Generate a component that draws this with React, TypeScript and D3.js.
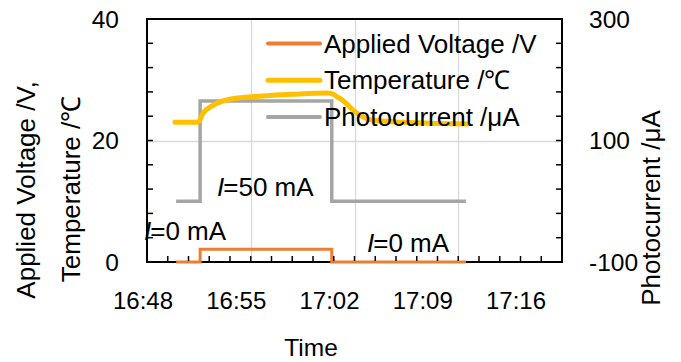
import React, { useRef, useEffect } from "react";
import * as d3 from "d3";

// time stamps (hh:mm:ss) and values
const stepTimes = ["16:49:58", "16:51:35", "17:00:28", "17:09:31"];
const voltage = [0, 2.1, 0, 0];
const photocurrent = [0, 165, 0, 0];

const tempTimes = [
  "16:49:53", "16:51:26", "16:51:47", "16:52:27", "16:53:24", "16:54:29",
  "16:55:37", "16:57:51", "17:00:09", "17:00:33", "17:00:49", "17:01:13",
  "17:01:54", "17:02:30", "17:03:03", "17:05:16", "17:07:34", "17:09:35",
];
const temperature = [
  23.0, 23.0, 24.5, 25.8, 26.7, 27.1, 27.3, 27.6, 27.8, 27.65, 27.2, 26.6,
  25.0, 24.0, 23.4, 23.0, 22.8, 22.7,
];

const xTicks = ["16:48", "16:55", "17:02", "17:09", "17:16"];
const leftTicks = [0, 20, 40];
const rightTicks = [-100, 100, 300];

const seriesNames = ["Applied Voltage /V", "Temperature /℃", "Photocurrent /μA"];
const colors = ["#ED7D31", "#FFC000", "#A5A5A5"];

const FONT = "'Liberation Sans', Arial, sans-serif";

const App = () => {
  const svgRef = useRef(null);

  useEffect(() => {
    const width = 681;
    const height = 362;
    const margin = { top: 19, right: 119, bottom: 100, left: 147 };

    const svg = d3.select(svgRef.current);
    svg.selectAll("*").remove();
    svg.attr("width", width).attr("height", height);

    const parse = d3.timeParse("%H:%M:%S");
    const parseHM = d3.timeParse("%H:%M");

    const x = d3
      .scaleTime()
      .domain([parseHM("16:48"), parseHM("17:16")])
      .range([margin.left, width - margin.right]);
    // Excel drew the tick labels on a slightly compressed spacing
    const xLabel = d3
      .scaleTime()
      .domain([parseHM("16:48"), parseHM("17:16")])
      .range([143, 516]);

    const yL = d3.scaleLinear().domain([0, 40]).range([height - margin.bottom, margin.top]);
    const yR = d3.scaleLinear().domain([-100, 300]).range([height - margin.bottom, margin.top]);

    const x0 = margin.left;
    const x1 = width - margin.right;
    const y0 = height - margin.bottom;
    const y1 = margin.top;

    // gridlines
    const grid = svg.append("g").attr("stroke", "#D9D9D9").attr("stroke-width", 1.3);
    xTicks.slice(1, -1).forEach((t) => {
      const gx = Math.round(x(parseHM(t))) + 0.5;
      grid.append("line").attr("x1", gx).attr("x2", gx).attr("y1", y1).attr("y2", y0);
    });
    leftTicks.slice(1, -1).forEach((v) => {
      const gy = Math.round(yL(v)) + 0.5;
      grid.append("line").attr("x1", x0).attr("x2", x1).attr("y1", gy).attr("y2", gy);
    });

    // frame
    svg
      .append("rect")
      .attr("x", x0)
      .attr("y", y1)
      .attr("width", x1 - x0)
      .attr("height", y0 - y1)
      .attr("fill", "none")
      .attr("stroke", "#000")
      .attr("stroke-width", 2);

    // series
    const stepData = stepTimes.map((t, i) => ({ t: parse(t), v: voltage[i], p: photocurrent[i] }));
    const tempData = tempTimes.map((t, i) => ({ t: parse(t), v: temperature[i] }));

    svg
      .append("path")
      .datum(stepData)
      .attr("fill", "none")
      .attr("stroke", colors[2])
      .attr("stroke-width", 3.5)
      .attr(
        "d",
        d3
          .line()
          .x((d) => x(d.t))
          .y((d) => yR(d.p))
          .curve(d3.curveStepAfter)
      );

    svg
      .append("path")
      .datum(tempData)
      .attr("fill", "none")
      .attr("stroke", colors[1])
      .attr("stroke-width", 5)
      .attr("stroke-linecap", "round")
      .attr(
        "d",
        d3
          .line()
          .x((d) => x(d.t))
          .y((d) => yL(d.v))
          .curve(d3.curveMonotoneX)
      );

    svg
      .append("path")
      .datum(stepData)
      .attr("fill", "none")
      .attr("stroke", colors[0])
      .attr("stroke-width", 3)
      .attr(
        "d",
        d3
          .line()
          .x((d) => x(d.t))
          .y((d) => yL(d.v))
          .curve(d3.curveStepAfter)
      );

    // minor + major ticks (inside)
    const ticks = svg.append("g").attr("stroke", "#000").attr("stroke-width", 1.5);
    const xMinor = d3.range(0, 21).map((i) => new Date(+parseHM("16:48") + i * 84000));
    xMinor.forEach((d) => {
      const tx = x(d);
      ticks.append("line").attr("x1", tx).attr("x2", tx).attr("y1", y0 - 1).attr("y2", y0 - 6);
    });
    d3.range(0, 41, 4).forEach((v) => {
      const ty = yL(v);
      ticks.append("line").attr("x1", x0).attr("x2", x0 + 6).attr("y1", ty).attr("y2", ty);
    });
    d3.range(-100, 301, 40).forEach((v) => {
      const ty = yR(v);
      ticks.append("line").attr("x1", x1).attr("x2", x1 - 6).attr("y1", ty).attr("y2", ty);
    });

    const txt = svg.append("g").attr("font-family", FONT).attr("fill", "#000");

    // tick labels
    xTicks.forEach((t) => {
      txt
        .append("text")
        .attr("x", xLabel(parseHM(t)))
        .attr("y", 309)
        .attr("text-anchor", "middle")
        .attr("font-size", 24)
        .text(t);
    });
    leftTicks.forEach((v) => {
      txt
        .append("text")
        .attr("x", 119)
        .attr("y", yL(v))
        .attr("dy", "0.35em")
        .attr("text-anchor", "end")
        .attr("font-size", 24.5)
        .text(v);
    });
    rightTicks.forEach((v) => {
      txt
        .append("text")
        .attr("x", 589)
        .attr("y", yR(v))
        .attr("dy", "0.35em")
        .attr("text-anchor", "start")
        .attr("font-size", 24.5)
        .text(v);
    });

    // axis titles
    txt
      .append("text")
      .attr("x", 311)
      .attr("y", 356)
      .attr("text-anchor", "middle")
      .attr("font-size", 24.5)
      .text("Time");
    txt
      .append("text")
      .attr("transform", "translate(26,190) rotate(-90)")
      .attr("dy", "0.35em")
      .attr("text-anchor", "middle")
      .attr("font-size", 26)
      .text("Applied Voltage /V,");
    txt
      .append("text")
      .attr("transform", "translate(71,189) rotate(-90)")
      .attr("dy", "0.35em")
      .attr("text-anchor", "middle")
      .attr("font-size", 26)
      .text("Temperature /℃");
    txt
      .append("text")
      .attr("transform", "translate(651,208) rotate(-90)")
      .attr("dy", "0.35em")
      .attr("text-anchor", "middle")
      .attr("font-size", 26)
      .text("Photocurrent /μA");

    // legend
    const legend = svg.append("g");
    seriesNames.forEach((name, i) => {
      const ly = 43.5 + i * 36.7;
      legend
        .append("line")
        .attr("x1", 268)
        .attr("x2", 320)
        .attr("y1", ly)
        .attr("y2", ly)
        .attr("stroke", colors[i])
        .attr("stroke-width", i === 1 ? 5 : 4)
        .attr("stroke-linecap", "round");
      legend
        .append("text")
        .attr("x", 324)
        .attr("y", ly)
        .attr("dy", "0.35em")
        .attr("font-family", FONT)
        .attr("font-size", 26)
        .text(name);
    });

    // current annotations (italic I)
    const notes = [
      { x: 217, y: 196, val: "50 mA" },
      { x: 144, y: 240, val: "0 mA" },
      { x: 367, y: 252, val: "0 mA" },
    ];
    notes.forEach((n) => {
      const t = txt.append("text").attr("x", n.x).attr("y", n.y).attr("font-size", 26);
      t.append("tspan").attr("font-style", "italic").text("I");
      t.append("tspan").attr("dx", -1).text("=" + n.val);
    });
  }, []);

  return (
    <svg
      ref={svgRef}
      style={{ position: "absolute", left: 0, top: 0, background: "#fff" }}
    ></svg>
  );
};

export default App;
